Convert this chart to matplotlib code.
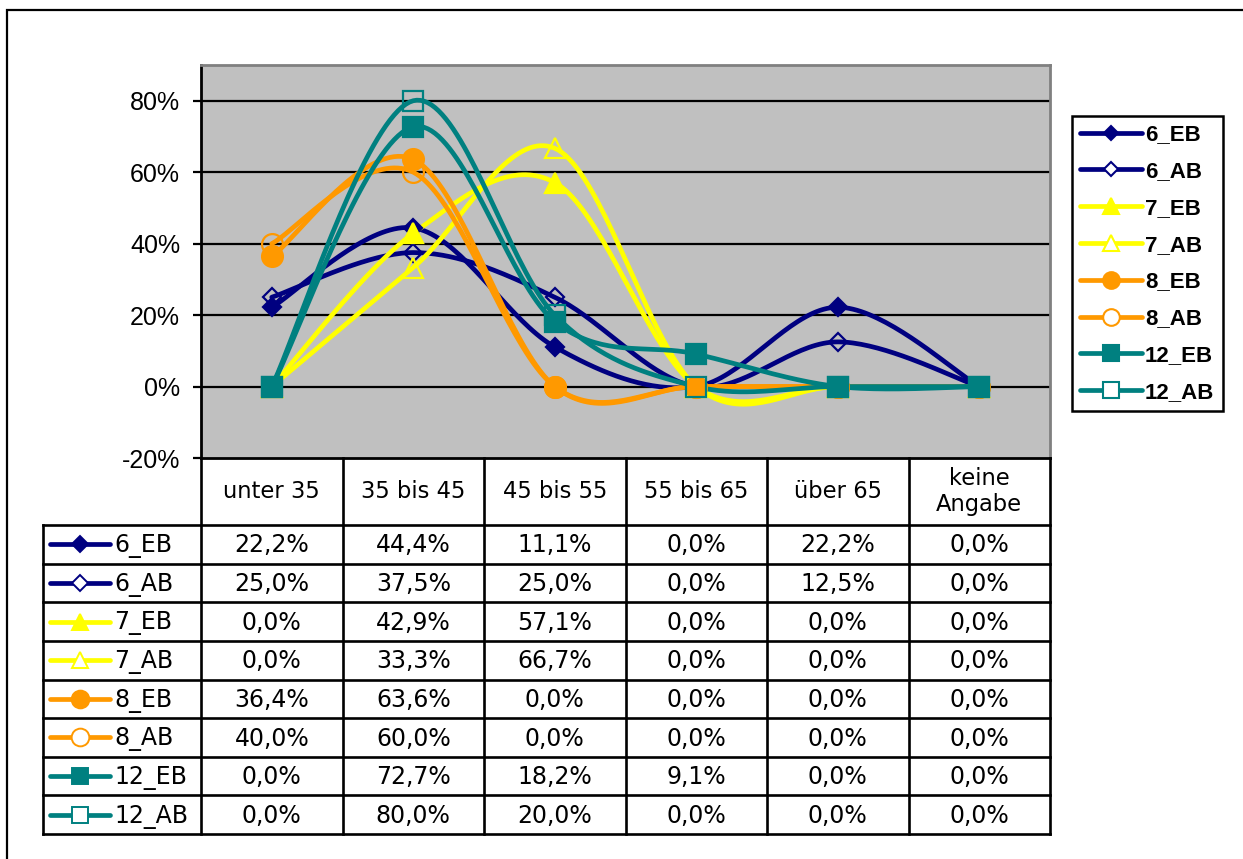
import numpy as np
import matplotlib.pyplot as plt
from matplotlib.lines import Line2D
from matplotlib.patches import Rectangle

# age groups and the share of each group per series (percent)
categories = ['unter 35', '35 bis 45', '45 bis 55', '55 bis 65', 'über 65', 'keine\nAngabe']
series_names = ['6_EB', '6_AB', '7_EB', '7_AB', '8_EB', '8_AB', '12_EB', '12_AB']
s6_eb = [22.2, 44.4, 11.1, 0.0, 22.2, 0.0]
s6_ab = [25.0, 37.5, 25.0, 0.0, 12.5, 0.0]
s7_eb = [0.0, 42.9, 57.1, 0.0, 0.0, 0.0]
s7_ab = [0.0, 33.3, 66.7, 0.0, 0.0, 0.0]
s8_eb = [36.4, 63.6, 0.0, 0.0, 0.0, 0.0]
s8_ab = [40.0, 60.0, 0.0, 0.0, 0.0, 0.0]
s12_eb = [0.0, 72.7, 18.2, 9.1, 0.0, 0.0]
s12_ab = [0.0, 80.0, 20.0, 0.0, 0.0, 0.0]
values = [s6_eb, s6_ab, s7_eb, s7_ab, s8_eb, s8_ab, s12_eb, s12_ab]

NAVY, YELLOW, ORANGE, TEAL = '#000080', '#FFFF00', '#FF9900', '#008080'
styles = [
    (NAVY, 'D', True), (NAVY, 'D', False),
    (YELLOW, '^', True), (YELLOW, '^', False),
    (ORANGE, 'o', True), (ORANGE, 'o', False),
    (TEAL, 's', True), (TEAL, 's', False),
]
msizes = {'D': 9.5, '^': 14, 'o': 15, 's': 14}
LINE_W = 3.4


def smooth(y, steps=40):
    # piecewise cubic bezier through the points, ends duplicated
    y = np.asarray(y, dtype=float)
    x = np.arange(len(y), dtype=float)
    px = np.concatenate([[x[0]], x, [x[-1]]])
    py = np.concatenate([[y[0]], y, [y[-1]]])
    t = np.linspace(0, 1, steps)[:, None]
    xs, ys = [], []
    for i in range(1, len(px) - 2):
        p0 = np.array([px[i], py[i]])
        p3 = np.array([px[i + 1], py[i + 1]])
        p1 = p0 + (np.array([px[i + 1], py[i + 1]]) - np.array([px[i - 1], py[i - 1]])) / 6
        p2 = p3 - (np.array([px[i + 2], py[i + 2]]) - np.array([px[i], py[i]])) / 6
        b = ((1 - t) ** 3) * p0 + 3 * ((1 - t) ** 2) * t * p1 + 3 * (1 - t) * t ** 2 * p2 + t ** 3 * p3
        xs.append(b[:, 0])
        ys.append(b[:, 1])
    return np.concatenate(xs), np.concatenate(ys)


W, H = 1243, 859
fig = plt.figure(figsize=(W / 100, H / 100), dpi=100)
fig.patch.set_facecolor('white')


def px_rect(x0, y0, x1, y1):
    return [x0 / W, 1 - y1 / H, (x1 - x0) / W, (y1 - y0) / H]


# outer chart frame
fig.add_artist(Rectangle((7 / W, -0.1), 1.2, 1 - 10 / H + 0.1, transform=fig.transFigure,
                         fill=False, edgecolor='black', linewidth=1.6))

# ---- plot area ----
ax = fig.add_axes(px_rect(201, 65, 1050, 458))
ax.set_facecolor('#C0C0C0')
ax.set_xlim(-0.5, len(categories) - 0.5)
ax.set_ylim(-0.2, 0.9)
ax.set_yticks([-0.2, 0.0, 0.2, 0.4, 0.6, 0.8])
ax.set_yticklabels(['-20%', '0%', '20%', '40%', '60%', '80%'], fontfamily='Liberation Sans', fontsize=18)
ax.set_xticks([])
ax.tick_params(axis='y', length=6, width=1.6, pad=9)
for y in [0.0, 0.2, 0.4, 0.6, 0.8]:
    ax.axhline(y, color='black', linewidth=1.6, zorder=1)
ax.spines['left'].set_linewidth(2)
ax.spines['bottom'].set_linewidth(2)
for s in ['top', 'right']:
    ax.spines[s].set_color('#808080')
    ax.spines[s].set_linewidth(2)

xpos = np.arange(len(categories))
for vals, (col, mk, filled) in zip(values, styles):
    frac = np.array(vals) / 100
    sx, sy = smooth(frac)
    ax.plot(sx, sy, color=col, linewidth=LINE_W, zorder=3, solid_capstyle='round')
    ax.plot(xpos, frac, linestyle='none', marker=mk, markersize=msizes[mk],
            markerfacecolor=col if filled else 'none', markeredgecolor=col,
            markeredgewidth=1.6, zorder=4)

# ---- legend ----
handles = []
for (col, mk, filled) in styles:
    handles.append(Line2D([], [], color=col, linewidth=LINE_W, marker=mk, markersize=msizes[mk] * 0.8,
                          markerfacecolor=col if filled else 'white', markeredgecolor=col,
                          markeredgewidth=1.5, solid_capstyle='round'))
leg = fig.legend(handles, series_names, loc='upper left', bbox_to_anchor=(1072 / W, 1 - 116 / H),
                 prop={'family': 'Liberation Sans', 'weight': 'bold', 'size': 16},
                 frameon=True, fancybox=False, edgecolor='black', framealpha=1,
                 handlelength=2.75, handletextpad=0.15, labelspacing=0.71, borderpad=0.38,
                 borderaxespad=0, numpoints=1)
leg.get_frame().set_linewidth(1.8)

# ---- data table ----
label_w = 158 / 141.5
hdr_h = 67 / 38.625
n_rows = len(series_names)
tab = fig.add_axes(px_rect(43, 458, 1050, 834))
tab.set_xlim(-0.5 - label_w, len(categories) - 0.5)
tab.set_ylim(n_rows, -hdr_h)
tab.axis('off')

lw = 1.9
left = -0.5 - label_w
right = len(categories) - 0.5
for r in range(n_rows + 1):
    tab.plot([left, right], [r, r], color='black', linewidth=lw, clip_on=False, solid_capstyle='projecting')
tab.plot([left, left], [0, n_rows], color='black', linewidth=lw, clip_on=False, solid_capstyle='projecting')
for c in range(len(categories) + 1):
    xc = c - 0.5
    tab.plot([xc, xc], [-hdr_h, n_rows], color='black', linewidth=lw, clip_on=False, solid_capstyle='projecting')

hfont = dict(family='DejaVu Sans', size=16.3)
tfont = dict(family='DejaVu Sans', size=17)
for c, name in enumerate(categories):
    tab.text(c, -hdr_h / 2, name, ha='center', va='center', linespacing=1.2, **hfont)

for r, (name, vals, (col, mk, filled)) in enumerate(zip(series_names, values, styles)):
    yc = r + 0.5
    tab.plot([left + 7 / 141.5, left + 67 / 141.5], [yc, yc], color=col, linewidth=LINE_W,
             solid_capstyle='round', clip_on=False)
    tab.plot([left + 37 / 141.5], [yc], marker=mk, markersize=msizes[mk] * 0.85,
             markerfacecolor=col if filled else 'white', markeredgecolor=col,
             markeredgewidth=1.4, clip_on=False)
    tab.text(left + 71 / 141.5, yc + 0.05, name, ha='left', va='center', **tfont)
    for c, v in enumerate(vals):
        label = f'{v:.1f}'.replace('.', ',') + '%'
        tab.text(c, yc + 0.03, label, ha='center', va='center', **tfont)

fig.savefig('out.png', dpi=100, facecolor='white')
